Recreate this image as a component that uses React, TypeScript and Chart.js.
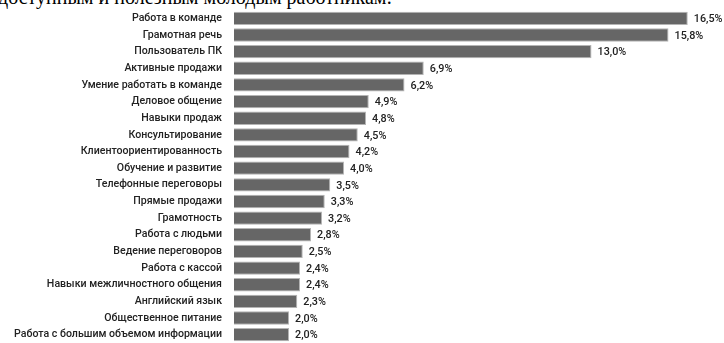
import React, { useEffect, useRef } from "react";
import { Chart, registerables } from "chart.js";

Chart.register(...registerables);

const categories: string[] = [
  "Работа в команде",
  "Грамотная речь",
  "Пользователь ПК",
  "Активные продажи",
  "Умение работать в команде",
  "Деловое общение",
  "Навыки продаж",
  "Консультирование",
  "Клиентоориентированность",
  "Обучение и развитие",
  "Телефонные переговоры",
  "Прямые продажи",
  "Грамотность",
  "Работа с людьми",
  "Ведение переговоров",
  "Работа с кассой",
  "Навыки межличностного общения",
  "Английский язык",
  "Общественное питание",
  "Работа с большим объемом информации",
];

const values: number[] = [
  16.5, 15.8, 13.0, 6.9, 6.2, 4.9, 4.8, 4.5, 4.2, 4.0, 3.5, 3.3, 3.2, 2.8, 2.5,
  2.4, 2.4, 2.3, 2.0, 2.0,
];

const valueLabels: string[] = [
  "16,5%", "15,8%", "13,0%", "6,9%", "6,2%", "4,9%", "4,8%", "4,5%", "4,2%",
  "4,0%", "3,5%", "3,3%", "3,2%", "2,8%", "2,5%", "2,4%", "2,4%", "2,3%",
  "2,0%", "2,0%",
];

const titleText = "доступным и полезным молодым работникам:";

const FONT = "Roboto, 'Liberation Sans', sans-serif";

const valueLabelPlugin = {
  id: "valueLabels",
  afterDatasetsDraw(chart: any) {
    const ctx = chart.ctx;
    const meta = chart.getDatasetMeta(0);
    ctx.save();
    ctx.font = `500 10.8px ${FONT}`;
    ctx.fillStyle = "#222222";
    ctx.textBaseline = "middle";
    ctx.textAlign = "left";
    meta.data.forEach((el: any, i: number) => {
      ctx.fillText(valueLabels[i], el.x + 6, el.y + 1);
    });
    ctx.restore();
  },
};

export default function App() {
  const canvasRef = useRef<HTMLCanvasElement | null>(null);

  useEffect(() => {
    if (!canvasRef.current) return;
    const chart = new Chart(canvasRef.current, {
      type: "bar",
      data: {
        labels: categories,
        datasets: [
          {
            data: values,
            backgroundColor: "#666666",
            borderColor: "#b4b4b4",
            borderWidth: 1,
            barPercentage: 0.8,
            categoryPercentage: 1.0,
          },
        ],
      },
      options: {
        indexAxis: "y",
        responsive: false,
        animation: false,
        layout: { padding: { top: 10, bottom: 0, left: 0, right: 8.75 } },
        plugins: {
          legend: { display: false },
          tooltip: { enabled: false },
        },
        scales: {
          x: { display: false, min: 0, max: 17.5 },
          y: {
            grid: { display: false, drawTicks: false },
            border: { display: false },
            ticks: {
              padding: 12,
              color: "#222222",
              font: { family: FONT, size: 10.6, weight: "500" },
              autoSkip: false,
            },
            afterFit: (scale: any) => {
              scale.width = 234;
              scale.paddingTop = 0;
              scale.paddingBottom = 0;
            },
          },
        },
      },
      plugins: [valueLabelPlugin],
    });
    return () => chart.destroy();
  }, []);

  return (
    <div style={{ position: "absolute", left: 0, top: 0, width: 724, height: 343, overflow: "hidden", background: "#fff" }}>
      <div
        style={{
          position: "absolute",
          left: -2,
          top: -15,
          fontFamily: "'Liberation Serif', 'Times New Roman', serif",
          fontSize: 20,
          color: "#000",
          whiteSpace: "nowrap",
          lineHeight: "24px",
        }}
      >
        {titleText}
      </div>
      <canvas ref={canvasRef} width={724} height={343} style={{ position: "absolute", left: 0, top: 0 }} />
    </div>
  );
}
